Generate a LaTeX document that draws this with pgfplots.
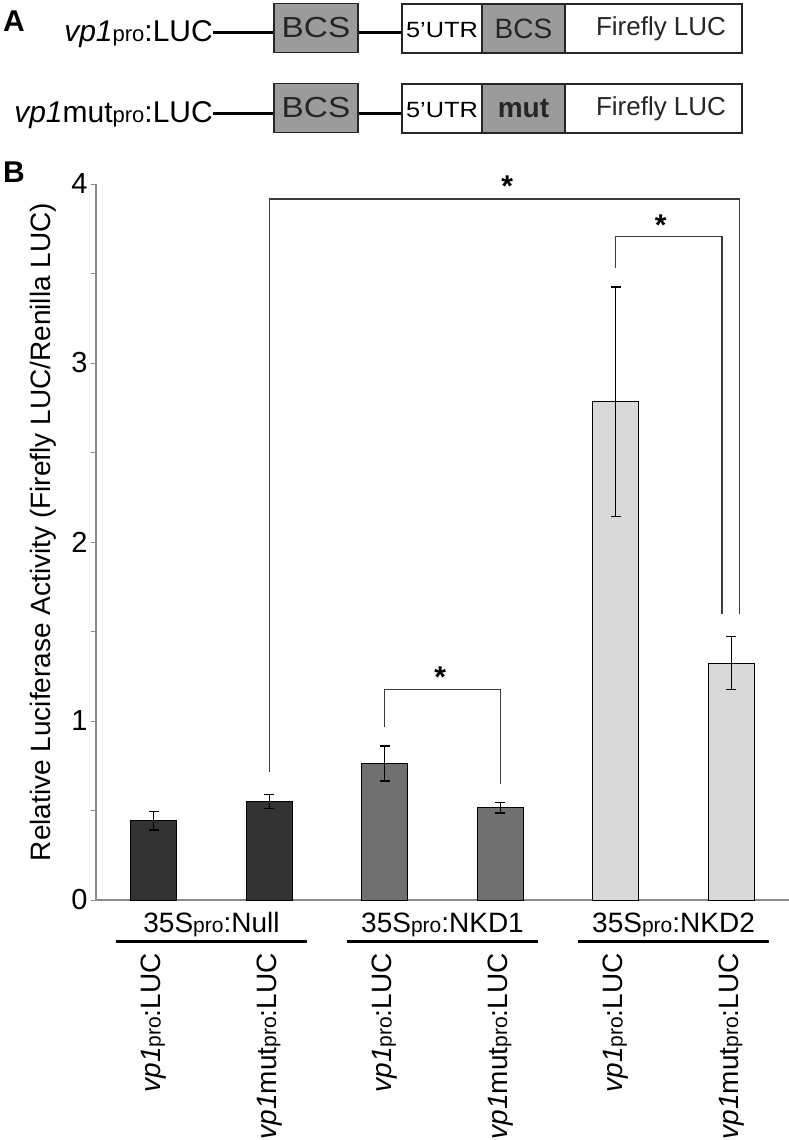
\documentclass[border=0pt]{standalone}
\usepackage{fontspec}
\setmainfont{Liberation Sans}
\usepackage{pgfplots}
\pgfplotsset{compat=1.18}
\definecolor{barA}{HTML}{333333}
\definecolor{barB}{HTML}{707070}
\definecolor{barC}{HTML}{D9D9D9}
\definecolor{boxgray}{HTML}{9B9B9B}
\definecolor{axgray}{HTML}{8C8C8C}
\definecolor{brk}{HTML}{3C3C3C}
\newcommand{\fs}[1]{\fontsize{#1}{#1}\selectfont}
\newcommand{\pro}[1][21]{{\fontsize{#1}{#1}\selectfont pro}}
\pgfplotsset{myerr/.style={error bars/.cd, y dir=both, y explicit,
  error bar style={line width=1.4pt, draw=black},
  error mark options={rotate=90, mark size=5pt, line width=1.4pt, draw=black}}}
\begin{document}
\begin{tikzpicture}
\path[use as bounding box] (0pt,0pt) rectangle (789pt,-1140pt);
% ---------- Panel A ----------
\node[font=\bfseries\fs{30}, anchor=base west, inner sep=0pt] at (3pt,-32pt) {A};
\foreach \dy/\lab/\mid in {0/{\textit{vp1}\pro[22]:LUC}/{BCS}, 80/{\textit{vp1}mut\pro[22]:LUC}/{\textbf{mut}}}{
  \begin{scope}[yshift=-\dy pt]
  \node[font=\fs{30}, anchor=base east, inner sep=0pt] at (213pt,-42pt) {\lab};
  \draw[line width=3pt] (213pt,-33pt) -- (274pt,-33pt);
  \draw[line width=3pt] (358pt,-33pt) -- (402pt,-33pt);
  \draw[line width=1.5pt, draw=black!85, fill=boxgray] (274pt,-3.5pt) rectangle (358pt,-52.5pt);
  \node[font=\fs{29}, text=black!85] at (316pt,-28pt) {\scalebox{1.15}[1]{BCS}};
  \draw[line width=1.5pt, draw=black!85, fill=white] (402pt,-4pt) rectangle (742pt,-53pt);
  \draw[line width=1.5pt, draw=black!85, fill=boxgray] (482pt,-4pt) rectangle (565pt,-53pt);
  \node[font=\fs{22}] at (442pt,-30pt) {\scalebox{1.15}[1]{5’UTR}};
  \node[font=\fs{28}, text=black!85] at (523.5pt,-29pt) {\mid};
  \node[font=\fs{26}, text=black!85] at (661pt,-29pt) {Firefly LUC};
  \end{scope}
}
\node[font=\bfseries\fs{30}, anchor=base west, inner sep=0pt] at (3pt,-182pt) {B};
% ---------- Panel B ----------
\begin{axis}[
  at={(96pt,-900pt)}, anchor=south west,
  scale only axis, width=693pt, height=716pt,
  xmin=-0.5, xmax=5.5, ymin=0, ymax=4,
  axis lines=left,
  axis line style={-},
  x axis line style={draw=axgray, line width=2pt},
  y axis line style={draw=axgray, line width=1.2pt},
  ytick={0,1,2,3,4}, minor ytick={0.5,1.5,2.5,3.5},
  tick align=outside, major tick length=5pt, minor tick length=5pt,
  y tick style={draw=axgray, line width=1pt},
  minor y tick style={draw=axgray, line width=1pt},
  yticklabel style={font=\fs{29}},
  /pgf/number format/assume math mode=true,
  xtick={0,1,2,3,4,5},
  x tick style={draw=none},
  xticklabels={{\textit{vp1}\pro:LUC},{\textit{vp1}mut\pro:LUC},{\textit{vp1}\pro:LUC},{\textit{vp1}mut\pro:LUC},{\textit{vp1}\pro:LUC},{\textit{vp1}mut\pro:LUC}},
  xticklabel style={yshift=-48pt, rotate=90, anchor=east, inner sep=0pt, font=\fs{28}},
  every axis y label/.style={at={(axis description cs:0,0.5)}, xshift=-53pt, yshift=10pt, rotate=90, anchor=center, font=\fs{28}},
  ylabel={Relative Luciferase Activity (Firefly LUC/Renilla LUC)},
  clip=false,
  ybar, bar width=46pt, bar shift=0pt,
]
\addplot[fill=barA, draw=black, line width=1pt, myerr] coordinates {(0,0.443) +- (0,0.051) (1,0.551) +- (0,0.040)};
\addplot[fill=barB, draw=black, line width=1pt, myerr] coordinates {(2,0.763) +- (0,0.098) (3,0.516) +- (0,0.030)};
\addplot[fill=barC, draw=black, line width=1pt, myerr] coordinates {(4,2.784) +- (0,0.640) (5,1.324) +- (0,0.147)};
% significance brackets
\draw[brk, line width=1.2pt] (axis cs:1,0.717) -- (axis cs:1,3.916) -- (axis cs:5.07,3.916) -- (axis cs:5.07,1.60);
\draw[brk, line width=1.2pt] (axis cs:4,3.53) -- (axis cs:4,3.706) -- (axis cs:4.92,3.706) -- (axis cs:4.92,1.60);
\draw[brk, line width=1.2pt] (axis cs:2,0.968) -- (axis cs:2,1.177) -- (axis cs:3,1.177) -- (axis cs:3,0.648);
\node[anchor=north, inner sep=0pt, font=\bfseries\fs{30}] at (axis cs:3.06,4.045) {*};
\node[anchor=north, inner sep=0pt, font=\bfseries\fs{30}] at (axis cs:4.39,3.83) {*};
\node[anchor=north, inner sep=0pt, font=\bfseries\fs{30}] at (axis cs:2.48,1.305) {*};
% group labels
\node[anchor=base, inner sep=0pt, font=\fs{28}] at (axis cs:0.5,-0.179) {35S\pro:Null};
\node[anchor=base, inner sep=0pt, font=\fs{28}] at (axis cs:2.5,-0.179) {35S\pro:NKD1};
\node[anchor=base, inner sep=0pt, font=\fs{28}] at (axis cs:4.5,-0.179) {35S\pro:NKD2};
\draw[line width=3pt] (axis cs:-0.33,-0.229) -- (axis cs:1.33,-0.229);
\draw[line width=3pt] (axis cs:1.67,-0.229) -- (axis cs:3.33,-0.229);
\draw[line width=3pt] (axis cs:3.67,-0.229) -- (axis cs:5.33,-0.229);
\end{axis}
\end{tikzpicture}
\end{document}
